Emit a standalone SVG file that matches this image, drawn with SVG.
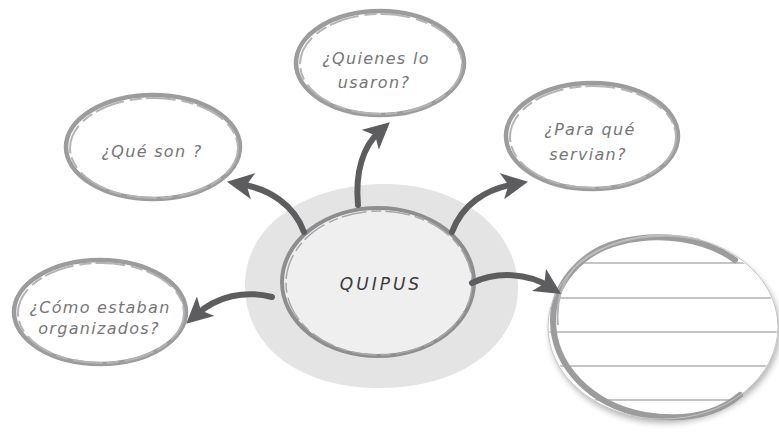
<svg xmlns="http://www.w3.org/2000/svg" width="779" height="432" viewBox="0 0 779 432">
  <defs>
    <style>
      .ring { fill: #ffffff; stroke: #9c9c9e; stroke-width: 4.5; }
      .ring2 { fill: none; stroke: #b4b4b6; stroke-width: 2; stroke-dasharray: 30 6 12 4; }
      .lbl { font-family: "DejaVu Sans", "Liberation Sans", sans-serif; font-style: italic; font-size: 16px; fill: #767678; text-anchor: middle; letter-spacing: 1.3px; }
      .arrow { fill: none; stroke: #5d5d5f; stroke-width: 6; stroke-linecap: round; marker-end: url(#ah); }
      .rule { stroke: #b0b0b2; stroke-width: 1.5; }
    </style>
    <marker id="ah" viewBox="0 0 10 10" refX="5" refY="5" markerWidth="4.4" markerHeight="4.4" orient="auto" markerUnits="strokeWidth">
      <path d="M0,0 L10,5 L0,10 L2.5,5 Z" fill="#5d5d5f"/>
    </marker>
    <filter id="sh" x="-20%" y="-20%" width="140%" height="140%">
      <feGaussianBlur in="SourceAlpha" stdDeviation="3"/>
      <feOffset dx="2" dy="4"/>
      <feComponentTransfer><feFuncA type="linear" slope="0.3"/></feComponentTransfer>
      <feMerge><feMergeNode/><feMergeNode in="SourceGraphic"/></feMerge>
    </filter>
    <clipPath id="bigclip"><ellipse cx="663" cy="327" rx="114" ry="91"/></clipPath>
  </defs>

  <g id="center">
    <path d="M380,184 C455,182 515,225 518,285 C520,345 460,390 375,388 C295,386 245,345 245,285 C245,225 305,186 380,184 Z" fill="#e4e4e5"/>
    <ellipse cx="378" cy="282" rx="96" ry="74" fill="#efeff0" stroke="#8e8e90" stroke-width="4"/>
    <ellipse cx="379" cy="283" rx="93" ry="72" fill="none" stroke="#a8a8aa" stroke-width="1.5" stroke-dasharray="25 5 10 4"/>
    <text x="381" y="290" font-family="DejaVu Sans, Liberation Sans, sans-serif" font-style="italic" font-size="17" fill="#3a3a3c" text-anchor="middle" letter-spacing="3">QUIPUS</text>
  </g>

  <g id="n-quienes">
    <ellipse class="ring" cx="380" cy="63" rx="84" ry="52"/>
    <ellipse class="ring2" cx="381" cy="64" rx="81" ry="50"/>
    <text class="lbl" x="376" y="64">¿Quienes lo</text>
    <text class="lbl" x="374" y="88">usaron?</text>
  </g>

  <g id="n-que">
    <ellipse class="ring" cx="153" cy="147" rx="87" ry="52"/>
    <ellipse class="ring2" cx="154" cy="148" rx="84" ry="50"/>
    <text class="lbl" x="152" y="157">¿Qué son ?</text>
  </g>

  <g id="n-para">
    <ellipse class="ring" cx="592" cy="136" rx="86" ry="53"/>
    <ellipse class="ring2" cx="593" cy="137" rx="83" ry="51"/>
    <text class="lbl" x="590" y="135">¿Para qué</text>
    <text class="lbl" x="588" y="160">servian?</text>
  </g>

  <g id="n-como">
    <ellipse class="ring" cx="100" cy="312" rx="86" ry="52"/>
    <ellipse class="ring2" cx="101" cy="313" rx="83" ry="50"/>
    <text class="lbl" x="100" y="313">¿Cómo estaban</text>
    <text class="lbl" x="99" y="334">organizados?</text>
  </g>

  <g id="n-notes">
    <ellipse cx="663" cy="327" rx="115" ry="92" fill="#ffffff" filter="url(#sh)"/>
    <g clip-path="url(#bigclip)">
      <line class="rule" x1="545" y1="263" x2="780" y2="263"/>
      <line class="rule" x1="545" y1="298" x2="780" y2="298"/>
      <line class="rule" x1="545" y1="332" x2="780" y2="332"/>
      <line class="rule" x1="545" y1="366" x2="780" y2="366"/>
      <line class="rule" x1="545" y1="400" x2="780" y2="400"/>
    </g>
    <path d="M735,260 C705,238 660,232 620,242 C580,252 553,285 553,320 C553,365 590,405 645,415 C690,422 720,412 740,395" fill="none" stroke="#9c9c9e" stroke-width="6" stroke-linecap="round"/>
    <path d="M700,240 C660,230 610,238 580,262 C560,280 556,305 558,325" fill="none" stroke="#b6b6b8" stroke-width="2"/>
    <ellipse cx="663" cy="327" rx="115" ry="92" fill="none" stroke="#c4c4c6" stroke-width="1"/>
  </g>

  <g id="connectors">
    <path class="arrow" d="M358,205 C355,172 363,146 380,131"/>
    <path class="arrow" d="M304,232 C294,205 270,189 240,184"/>
    <path class="arrow" d="M452,232 C462,205 485,189 515,184"/>
    <path class="arrow" d="M472,283 C497,271 528,273 550,287"/>
    <path class="arrow" d="M272,297 C245,290 217,296 196,315"/>
  </g>
</svg>
